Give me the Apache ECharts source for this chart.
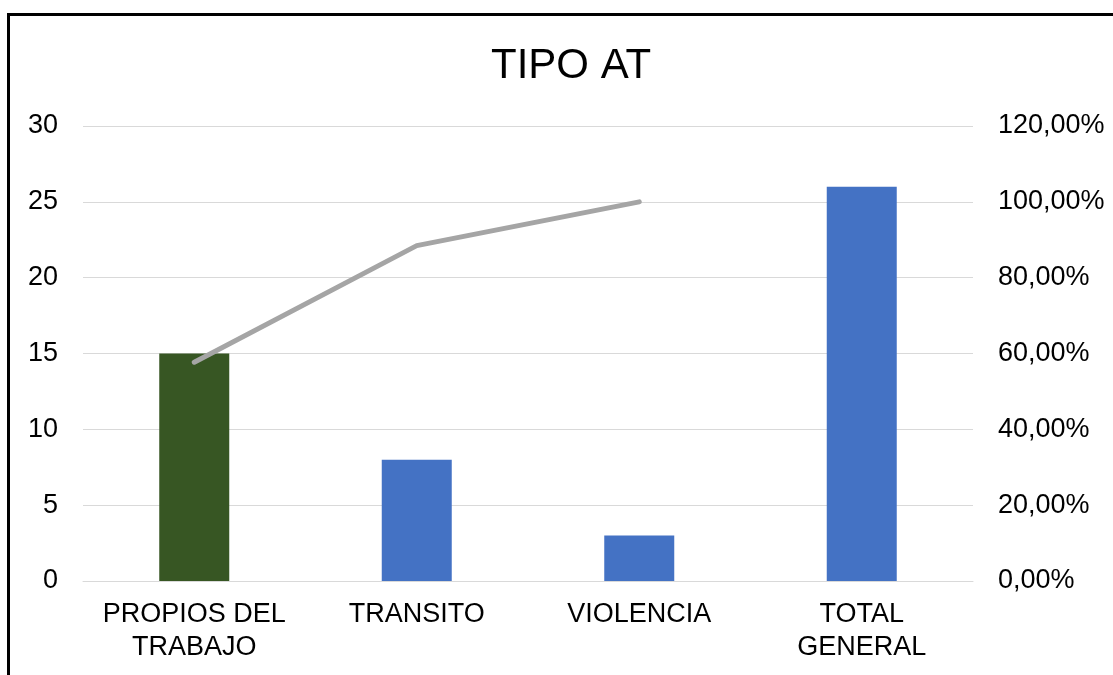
<!DOCTYPE html>
<html>
<head>
<meta charset="utf-8">
<script src="https://cdn.jsdelivr.net/npm/echarts@6/dist/echarts.min.js"></script>
<style>
  html, body { margin: 0; padding: 0; background: #fff; }
  #chart { width: 1113px; height: 675px; }
</style>
</head>
<body>
<div id="chart"></div>
<script>
var categories = ['PROPIOS DEL\nTRABAJO', 'TRANSITO', 'VIOLENCIA', 'TOTAL\nGENERAL']
var cantidad = [15, 8, 3, 26]
var acumulado = [57.69, 88.46, 100, null]
var barColors = ['#375623', '#4472C4', '#4472C4', '#4472C4']

var chart = echarts.init(document.getElementById('chart'))

var font = 'Liberation Sans, Arial, sans-serif'

chart.setOption({
  animation: false,
  backgroundColor: '#fff',
  title: {
    text: 'TIPO AT',
    left: 486,
    top: 40,
    textStyle: {
      fontFamily: font,
      fontSize: 42,
      fontWeight: 'normal',
      color: '#000'
    }
  },
  graphic: [{
    type: 'rect',
    shape: { x: 8.5, y: 14.5, width: 1300, height: 900 },
    style: { fill: 'none', stroke: '#000', lineWidth: 3 },
    silent: true
  }],
  grid: {
    left: 83,
    right: 140,
    top: 126,
    bottom: 94
  },
  xAxis: {
    type: 'category',
    data: categories,
    axisTick: { show: false },
    axisLine: { lineStyle: { color: '#D9D9D9', width: 1 } },
    axisLabel: {
      interval: 0,
      margin: 17,
      fontFamily: font,
      fontSize: 27,
      lineHeight: 33,
      color: '#000'
    }
  },
  yAxis: [{
    type: 'value',
    min: 0,
    max: 30,
    interval: 5,
    axisLine: { show: false },
    axisTick: { show: false },
    splitLine: { lineStyle: { color: '#D9D9D9', width: 1 } },
    axisLabel: {
      margin: 25,
      fontFamily: font,
      fontSize: 27,
      color: '#000'
    }
  }, {
    type: 'value',
    min: 0,
    max: 120,
    interval: 20,
    axisLine: { show: false },
    axisTick: { show: false },
    splitLine: { show: false },
    axisLabel: {
      margin: 25,
      fontFamily: font,
      fontSize: 27,
      color: '#000',
      formatter: function (v) {
        return v.toFixed(2).replace('.', ',') + '%'
      }
    }
  }],
  series: [{
    name: 'Cantidad',
    type: 'bar',
    barWidth: 70,
    data: cantidad.map(function (v, i) {
      return { value: v, itemStyle: { color: barColors[i] } }
    })
  }, {
    name: 'Acumulado',
    type: 'line',
    yAxisIndex: 1,
    symbol: 'none',
    lineStyle: { color: '#A5A5A5', width: 5, cap: 'round', join: 'round' },
    data: acumulado
  }]
})
</script>
</body>
</html>
